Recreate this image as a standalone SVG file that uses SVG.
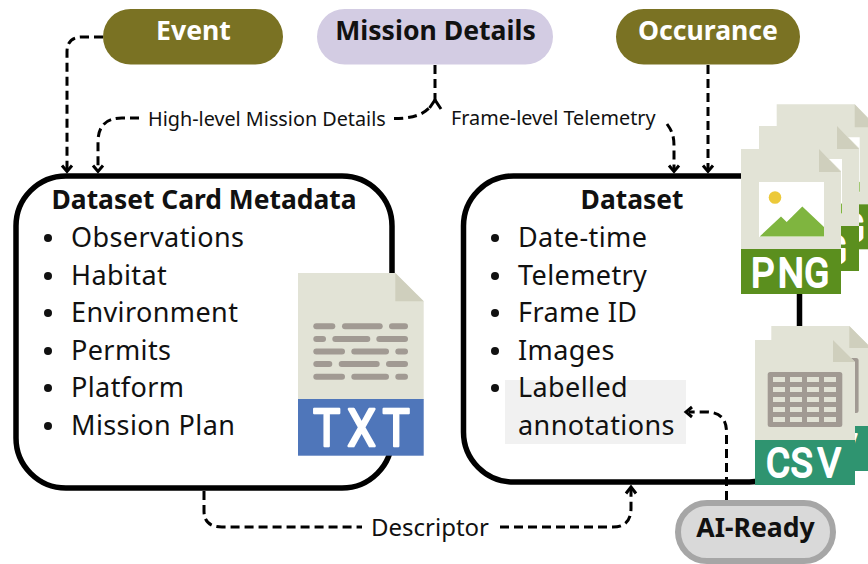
<svg xmlns="http://www.w3.org/2000/svg" xmlns:xlink="http://www.w3.org/1999/xlink" width="868" height="564" viewBox="0 0 868 564">
<style>
text{font-family:"Noto Sans","Open Sans","Liberation Sans",sans-serif;fill:#111}
.pill{font-size:26.600px;font-weight:700;text-anchor:middle}
.title{font-size:26.400px;font-weight:700;text-anchor:middle}
.item{font-size:27px;letter-spacing:.4px}
.lab{font-size:19.800px;font-weight:400}
.box{fill:#fff;stroke:#000;stroke-width:5.5}
.dash{fill:none;stroke:#000;stroke-width:3;stroke-dasharray:9 5}
.head{fill:none;stroke:#000;stroke-width:3}
.paper{fill:#e2e3d6}
.fold{fill:#cfcfbd}
.grey{fill:#a19a93}
.cell{fill:#e2e3d6}
.badge{fill:#fff;stroke:#fff;stroke-width:2;stroke-linejoin:round;font-family:"Roboto","Liberation Sans",sans-serif;font-weight:400;font-size:40px}
</style>
<defs>
<g id="pngdoc">
<path class="paper" d="M0,0H78L100,22V100H0Z"/>
<path fill="#fff" d="M18,33H83V88H18Z"/>
<path class="fold" d="M78,0L100,23H78Z"/>
<rect y="100" width="100" height="45" fill="#5b8f1e"/>
<text class="badge" transform="translate(10,137.500) scale(.92,1)" x="0 29 58">PNG</text>
<circle cx="34" cy="48.500" r="6.300" fill="#ecc93a"/>
<path fill="#7fb53f" d="M18.700,87.500L40,67.500L45.700,73L61.300,57.500L83,78V87.500Z"/>
</g>
<g id="csvdoc">
<path class="paper" d="M0,0H78L100,22V100H0Z"/>
<path class="fold" d="M78,0L100,22H78Z"/>
<rect y="100" width="100" height="45" fill="#2f9470"/>
<text class="badge" transform="translate(11,136.500) scale(.92,1)" x="0 27 56">CSV</text>
<rect x="12.700" y="32" width="74.600" height="55" rx="2.500" class="grey"/>
<g class="cell">
<rect x="18" y="37" width="12" height="5"/><rect x="35" y="37" width="12" height="5"/><rect x="52" y="37" width="12" height="5"/><rect x="69" y="37" width="12" height="5"/>
<rect x="18" y="47" width="12" height="5"/><rect x="35" y="47" width="12" height="5"/><rect x="52" y="47" width="12" height="5"/><rect x="69" y="47" width="12" height="5"/>
<rect x="18" y="57" width="12" height="5"/><rect x="35" y="57" width="12" height="5"/><rect x="52" y="57" width="12" height="5"/><rect x="69" y="57" width="12" height="5"/>
<rect x="18" y="67" width="12" height="5"/><rect x="35" y="67" width="12" height="5"/><rect x="52" y="67" width="12" height="5"/><rect x="69" y="67" width="12" height="5"/>
<rect x="18" y="77" width="12" height="5"/><rect x="35" y="77" width="12" height="5"/><rect x="52" y="77" width="12" height="5"/><rect x="69" y="77" width="12" height="5"/>
</g>
</g>
</defs>
<rect width="868" height="564" fill="#fff"/>

<g id="dataset-card">
<rect class="box" x="16" y="176" width="376" height="312" rx="50"/>
<text class="title" x="204" y="209">Dataset Card Metadata</text>
<g fill="#111"><circle cx="48" cy="238" r="4"/><circle cx="48" cy="276" r="4"/><circle cx="48" cy="313" r="4"/><circle cx="48" cy="351" r="4"/><circle cx="48" cy="388" r="4"/><circle cx="48" cy="426" r="4"/></g>
<text class="item" x="71" y="247">Observations</text>
<text class="item" x="71" y="285">Habitat</text>
<text class="item" x="71" y="322">Environment</text>
<text class="item" x="71" y="360">Permits</text>
<text class="item" x="71" y="397">Platform</text>
<text class="item" x="71" y="435">Mission Plan</text>
</g>

<g id="txt-file">
<path class="paper" d="M298,273H395.300L423.700,301.300V400H298Z"/>
<path class="fold" d="M395.300,273L423.700,301.300H395.300Z"/>
<g class="grey">
<rect x="313.300" y="323.300" width="22" height="6" rx="3"/><rect x="342" y="323.300" width="40.700" height="6" rx="3"/><rect x="389" y="323.300" width="19" height="6" rx="3"/>
<rect x="313.300" y="336" width="12.700" height="6" rx="3"/><rect x="332.300" y="336" width="38" height="6" rx="3"/><rect x="376.300" y="336" width="31.700" height="6" rx="3"/>
<rect x="313.300" y="348.600" width="31.700" height="6" rx="3"/><rect x="351.300" y="348.600" width="37.700" height="6" rx="3"/><rect x="395.300" y="348.600" width="12.700" height="6" rx="3"/>
<rect x="313.300" y="361" width="19" height="6" rx="3"/><rect x="338.700" y="361" width="41" height="6" rx="3"/><rect x="386" y="361" width="22" height="6" rx="3"/>
<rect x="313.300" y="373.700" width="31.700" height="6" rx="3"/><rect x="351.300" y="373.700" width="37.700" height="6" rx="3"/><rect x="395.300" y="373.700" width="12.700" height="6" rx="3"/>
</g>
<rect x="298" y="399" width="125.700" height="56.700" fill="#4f76ba"/>
<text class="badge" transform="translate(313,446) scale(.88,1)" x="0 39 79" style="font-size:52px;stroke-width:2.400">TXT</text>
</g>

<g id="dataset">
<rect class="box" x="463.500" y="176" width="336" height="306" rx="50"/>
<text class="title" x="632" y="209">Dataset</text>
<rect x="505" y="380" width="181" height="64" fill="#f1f1f1"/>
<g fill="#111"><circle cx="495" cy="238" r="4"/><circle cx="495" cy="276" r="4"/><circle cx="495" cy="313" r="4"/><circle cx="495" cy="351" r="4"/><circle cx="495" cy="388" r="4"/></g>
<text class="item" x="518" y="247">Date-time</text>
<text class="item" x="518" y="285">Telemetry</text>
<text class="item" x="518" y="322">Frame ID</text>
<text class="item" x="518" y="360">Images</text>
<text class="item" x="518" y="397">Labelled</text>
<text class="item" x="518" y="435">annotations</text>
</g>

<g id="png-files">
<use href="#pngdoc" x="776.700" y="104.300"/>
<use href="#pngdoc" x="759" y="126"/>
<use href="#pngdoc" x="741" y="149"/>
</g>
<g id="csv-files">
<use href="#csvdoc" x="771.300" y="326"/>
<use href="#csvdoc" x="755" y="340"/>
</g>

<g id="event"><rect x="103" y="9" width="180" height="55.500" rx="27.700" fill="#7a7223"/><text class="pill" x="193.500" y="40" style="fill:#fff">Event</text></g>
<g id="mission-details"><rect x="317" y="9" width="236" height="55.500" rx="27.700" fill="#d3cce3"/><text class="pill" x="435.500" y="40">Mission Details</text></g>
<g id="occurance"><rect x="616" y="9" width="184" height="55.500" rx="27.700" fill="#7a7223"/><text class="pill" x="708" y="40" style="fill:#fff">Occurance</text></g>
<g id="ai-ready"><rect x="678" y="503" width="155" height="58" rx="29" fill="#d9d9d9" stroke="#a6a6a6" stroke-width="6"/><text class="pill" x="755.500" y="537">AI-Ready</text></g>

<g id="connectors">
<path class="dash" d="M103,37H82Q67,37 67,52V170"/>
<path class="head" d="M62,165.500L67,171.500L72,165.500"/>
<path class="dash" d="M139,118H122Q98,118 98,142V170"/>
<path class="head" d="M93,165.500L98,171.500L103,165.500"/>
<path class="dash" d="M435,65V100"/>
<path class="head" d="M429.500,108L435,100L441,109"/>
<path class="dash" d="M394,118.500C412,118.500 423,115 430,107"/>
<path class="dash" d="M667,124C672,131 674,136 674,146V170"/>
<path class="head" d="M669,165.500L674,171.500L679,165.500"/>
<path class="dash" d="M708,65V170"/>
<path class="head" d="M703,165.500L708,171.500L713,165.500"/>
<path class="dash" d="M204,491V511Q204,527 222,527H362"/>
<path class="dash" d="M500,527H613Q631,527 631,508V488"/>
<path class="head" d="M626,493.500L631,487L636,493.500"/>
<path class="dash" d="M726.500,500V432Q726.500,412 706,412H689"/>
<path class="head" d="M692,407L686,412L692,417"/>
<text class="lab" x="148" y="126">High-level Mission Details</text>
<text class="lab" x="451" y="125">Frame-level Telemetry</text>
<text class="lab" x="371" y="536" style="font-size:24px">Descriptor</text>
</g>
</svg>
